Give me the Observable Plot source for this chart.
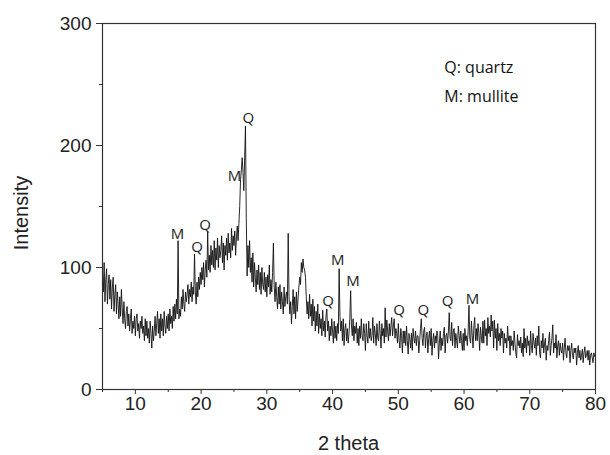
<!DOCTYPE html>
<html>
<head>
<meta charset="utf-8">
<script src="https://cdn.jsdelivr.net/npm/d3@7"></script>
<script src="https://cdn.jsdelivr.net/npm/@observablehq/plot@0.6"></script>
<style>
  html, body { margin: 0; padding: 0; background: #fff; }
  #chart { width: 610px; height: 455px; }
</style>
</head>
<body>
<div id="chart"></div>
<script>
// Scan grid: start angle and step (degrees 2θ)
const scanStart = 5;
const scanStep = 0.125;

// Intensity readings, 8 per degree, from 5.000 to 80.000
const intensity = [
  96, 80, 104, 72, 90, 99, 70, 86,      // 5
  94, 74, 90, 66, 84, 92, 64, 78,       // 6
  86, 62, 80, 70, 58, 76, 60, 82,       // 7
  66, 54, 72, 58, 50, 64, 68, 52,       // 8
  62, 48, 58, 66, 46, 56, 50, 60,       // 9
  44, 58, 62, 48, 54, 42, 56, 50,       // 10
  60, 46, 52, 40, 58, 44, 56, 42,       // 11
  50, 38, 56, 46, 34, 52, 40, 48,       // 12
  60, 44, 54, 64, 46, 58, 42, 62,       // 13
  48, 58, 44, 64, 52, 46, 60, 50,       // 14
  62, 48, 66, 54, 60, 50, 68, 56,       // 15
  70, 58, 74, 62, 122, 58, 66, 60,      // 16
  76, 66, 82, 70, 64, 80, 72, 78,       // 17
  86, 70, 82, 76, 88, 72, 84, 78,       // 18
  111, 80, 70, 88, 76, 92, 82, 96,      // 19
  86, 100, 90, 104, 84, 98, 106, 92,    // 20
  129, 98, 110, 96, 118, 102, 114, 100, // 21
  122, 98, 116, 106, 124, 100, 118, 108,// 22
  114, 126, 104, 120, 98, 118, 110, 124,// 23
  106, 128, 112, 120, 108, 132, 114, 126,// 24
  118, 130, 110, 124, 134, 122, 136, 150,// 25
  172, 180, 190, 178, 163, 190, 216, 140,// 26
  93, 118, 100, 122, 96, 108, 88, 112,  // 27
  84, 104, 92, 80, 98, 86, 102, 82,     // 28
  96, 78, 100, 86, 82, 96, 80, 92,      // 29
  76, 94, 84, 102, 78, 90, 80, 96,      // 30
  120, 84, 72, 88, 76, 66, 84, 70,      // 31
  86, 66, 80, 72, 62, 84, 68, 76,       // 32
  80, 70, 128, 76, 62, 72, 54, 68,      // 33
  82, 62, 76, 58, 80, 64, 74, 84,       // 34
  92, 86, 104, 96, 107, 100, 98, 92,    // 35
  76, 62, 72, 58, 78, 60, 70, 52,       // 36
  74, 56, 68, 48, 64, 52, 70, 46,       // 37
  62, 50, 58, 44, 65, 48, 56, 43,       // 38
  60, 66, 48, 56, 40, 52, 44, 58,       // 39
  48, 38, 56, 42, 52, 40, 54, 46,       // 40
  99, 60, 48, 56, 40, 58, 36, 50,       // 41
  54, 40, 50, 38, 46, 58, 81, 52,       // 42
  44, 58, 40, 52, 46, 55, 38, 50,       // 43
  36, 52, 42, 58, 44, 40, 54, 46,       // 44
  32, 54, 44, 38, 56, 42, 50, 40,       // 45
  44, 59, 38, 52, 46, 36, 54, 42,       // 46
  40, 56, 46, 34, 54, 44, 50, 38,       // 47
  67, 43, 57, 48, 40, 54, 44, 52,       // 48
  59, 44, 52, 58, 42, 50, 46, 38,       // 49
  54, 40, 34, 50, 44, 30, 48, 38,       // 50
  48, 36, 52, 40, 29, 46, 42, 34,       // 51
  46, 32, 50, 42, 38, 48, 36, 44,       // 52
  44, 30, 40, 50, 58, 42, 36, 48,       // 53
  51, 34, 44, 47, 30, 42, 48, 36,       // 54
  50, 28, 40, 46, 34, 44, 38, 48,       // 55
  44, 25, 38, 48, 32, 42, 36, 46,       // 56
  51, 30, 44, 46, 38, 48, 63, 42,       // 57
  40, 55, 36, 48, 50, 34, 46, 40,       // 58
  34, 52, 44, 38, 48, 40, 32, 46,       // 59
  32, 50, 40, 44, 36, 48, 69, 42,       // 60
  38, 56, 44, 34, 52, 59, 40, 50,       // 61
  40, 54, 46, 32, 51, 44, 38, 56,       // 62
  38, 57, 44, 50, 36, 59, 46, 52,       // 63
  43, 61, 48, 56, 34, 57, 42, 50,       // 64
  32, 54, 40, 46, 36, 50, 42, 48,       // 65
  30, 46, 38, 42, 34, 52, 40, 44,       // 66
  28, 44, 36, 40, 32, 48, 38, 30,       // 67
  26, 45, 36, 40, 34, 43, 30, 38,       // 68
  27, 50, 34, 42, 30, 44, 36, 40,       // 69
  28, 48, 36, 30, 46, 38, 34, 42,       // 70
  28, 44, 36, 52, 30, 26, 40, 34,       // 71
  46, 30, 38, 42, 24, 36, 32, 40,       // 72
  47, 28, 36, 42, 53, 30, 38, 34,       // 73
  45, 26, 36, 40, 28, 38, 32, 30,       // 74
  38, 24, 34, 42, 30, 26, 36, 32,       // 75
  36, 22, 32, 38, 28, 25, 34, 30,       // 76
  34, 20, 30, 36, 26, 32, 24, 28,       // 77
  33, 22, 30, 35, 26, 28, 32, 24,       // 78
  32, 20, 28, 30, 26, 22, 30, 27,       // 79
  28                                    // 80
];

// Peak annotations
const peakLetters = ["Q", "M", "Q", "Q", "M", "M", "M", "Q", "Q", "Q", "Q", "M"];
const peakTheta   = [27.2, 25.1, 20.6, 19.4, 16.4, 40.8, 43.1, 39.3, 50.1, 53.8, 57.5, 61.3];
const peakLabelY  = [222, 175, 135, 117, 127, 106, 89, 72, 65, 65, 72, 74];

// Legend text
const legendLines = ["Q: quartz", "M: mullite"];
const legendTheta = [57.0, 57.0];
const legendY = [264, 240];

// Axis ticks
const xMajor = [10, 20, 30, 40, 50, 60, 70, 80];
const xMinor = [5, 15, 25, 35, 45, 55, 65, 75];
const yMajor = [0, 100, 200, 300];
const yMinor = [50, 150, 250];

const scan = intensity.map((v, i) => ({theta: scanStart + i * scanStep, v}));
const peaks = peakLetters.map((t, i) => ({t, x: peakTheta[i], y: peakLabelY[i]}));
const legend = legendLines.map((t, i) => ({t, x: legendTheta[i], y: legendY[i]}));

const W = 610, H = 455;
const mL = 102, mR = 15, mT = 23, mB = 66;

const plot = Plot.plot({
  width: W,
  height: H,
  marginLeft: mL,
  marginRight: mR,
  marginTop: mT,
  marginBottom: mB,
  style: {fontFamily: "'Liberation Sans', Arial, sans-serif", fontSize: "19px", color: "#222", background: "#fff"},
  x: {domain: [5, 80]},
  y: {domain: [0, 300]},
  marks: [
    Plot.axisX({ticks: xMinor, tickSize: 3, tickFormat: () => "", label: null, stroke: "#333"}),
    Plot.axisX({ticks: xMajor, tickSize: 5, tickPadding: 2, label: null, stroke: "#333", fontSize: 19}),
    Plot.axisY({ticks: yMinor, tickSize: 3, tickFormat: () => "", label: null, stroke: "#333"}),
    Plot.axisY({ticks: yMajor, tickSize: 6, tickPadding: 5, label: null, stroke: "#333", fontSize: 19}),
    Plot.line(scan, {x: "theta", y: "v", stroke: "#111", strokeWidth: 0.9}),
    Plot.frame({stroke: "#333", strokeWidth: 1.2}),
    Plot.text(peaks, {x: "x", y: "y", text: "t", fontFamily: "'Open Sans', sans-serif", fontSize: 15, fill: "#222"}),
    Plot.text(legend, {x: "x", y: "y", text: "t", textAnchor: "start", fontFamily: "'Open Sans', sans-serif", fontSize: 16, fill: "#111"})
  ]
});

document.getElementById("chart").appendChild(plot);

// Axis titles
const svg = d3.select(plot);
svg.append("text")
  .attr("x", (mL + W - mR) / 2)
  .attr("y", 450)
  .attr("text-anchor", "middle")
  .attr("font-size", 20)
  .attr("fill", "#222")
  .text("2 theta");
svg.append("text")
  .attr("transform", `translate(28, 213) rotate(-90)`)
  .attr("text-anchor", "middle")
  .attr("font-size", 20)
  .attr("fill", "#222")
  .text("Intensity");
</script>
</body>
</html>
